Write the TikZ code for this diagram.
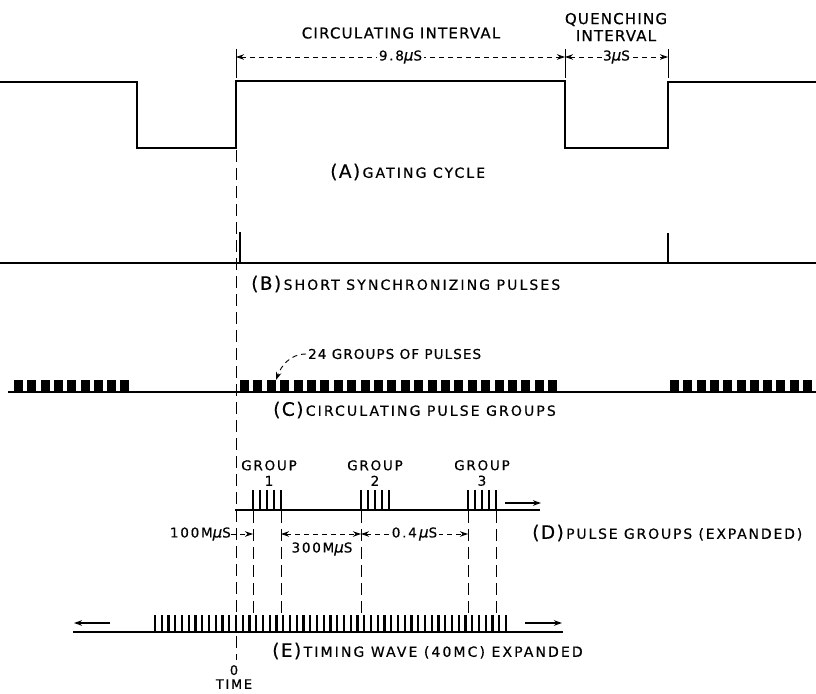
\documentclass[tikz,border=0pt]{standalone}
\usepackage{fontspec}
\setmainfont{DejaVu Sans}[FakeBold=0.5]
\newfontfamily\fa{DejaVu Sans}[LetterSpace=8,FakeBold=0.5]
\newfontfamily\fb{DejaVu Sans}[LetterSpace=15,FakeBold=0.5]
\newfontfamily\fc{DejaVu Sans}[LetterSpace=13,FakeBold=0.5]
\newfontfamily\fmu{DejaVu Sans}[FakeBold=0.5]
\usetikzlibrary{arrows.meta}
\newcommand{\mus}{{\fmu\itshape\fontsize{15}{15}\selectfont μ}S}
\newcommand{\bigtxt}[1]{{\fontsize{18.5}{18.5}\selectfont\fa #1}}
\begin{document}
\begin{tikzpicture}[x=1pt,y=-1pt,
  wave/.style={line width=2.9pt,line join=miter},
  base/.style={line width=1.9pt},
  vdash/.style={line width=1pt,dash pattern=on 12pt off 6pt},
  dim/.style={line width=0.9pt,dash pattern=on 5pt off 4pt},
  tipboth/.style={{Stealth[length=8pt,width=5.5pt]}-{Stealth[length=8pt,width=5.5pt]}},
  tipend/.style={-{Stealth[length=8pt,width=5.5pt]}},
  lbl/.style={inner sep=0pt,anchor=west,font=\fontsize{14}{14}\selectfont\fb},
  ctr/.style={inner sep=0pt,font=\fontsize{13.5}{15.5}\selectfont\fc,align=center},
  dimtxt/.style={inner sep=1.5pt,fill=white,font=\fontsize{13.5}{13.5}\selectfont\fc}]
\useasboundingbox (0,0) rectangle (816,693);
% ---------- (A) gating cycle ----------
\draw[wave] (0,82) -- (137,82) -- (137,148) -- (236,148) -- (236,81) -- (565,81)
  -- (565,148) -- (668,148) -- (668,82) -- (816,82);
\coordinate (a1) at (236,57);
\coordinate (a2) at (565,57);
\coordinate (a3) at (668,57);
\draw[line width=0.9pt] (236,49) -- (236,78) (565,49) -- (565,78) (668,49) -- (668,78);
\draw[dim,tipboth] (a1) -- node[dimtxt] {9.8\mus} (a2);
\draw[dim,tipboth] (a2) -- node[dimtxt] {3\mus} (a3);
\node[inner sep=0pt,font=\fontsize{15}{15}\selectfont\fa] (circ) at (401,33) {CIRCULATING INTERVAL};
\node[inner sep=0pt,align=center,font=\fontsize{15}{17}\selectfont\fa] (quench) at (616,27) {QUENCHING\\INTERVAL};
\node[lbl] (la) at (330,172) {\bigtxt{(A)}\,GATING CYCLE};
% main time line
\draw[vdash] (236,150) -- (236,660);
% ---------- (B) ----------
\draw[base] (0,263) -- (816,263);
\draw[line width=2.8pt] (240,263) -- (240,232) (668,263) -- (668,233);
\node[lbl] (lb) at (251,284) {\bigtxt{(B)}\,SHORT SYNCHRONIZING PULSES};
% ---------- (C) ----------
\draw[base] (8,392) -- (816,392);
\foreach \i in {0,...,8} \fill (14+\i*13.3,380) rectangle ++(9,12);
\foreach \i in {0,...,23} \fill (240+\i*13.4,380) rectangle ++(9,12);
\foreach \i in {0,...,10} \fill (670+\i*13.3,380) rectangle ++(9,12);
\node[inner sep=0pt,anchor=west,font=\fontsize{13.5}{13.5}\selectfont\fa] (g24) at (308,354) {24 GROUPS OF PULSES};
\coordinate (g24tip) at (276,380);
\draw[dim,tipend] ([xshift=-2pt]g24.west) to[out=180,in=70] (g24tip);
\node[lbl] (lc) at (273,410) {\bigtxt{(C)}\,CIRCULATING PULSE GROUPS};
% ---------- (D) ----------
\draw[base] (235,510) -- (540,510);
\foreach \s in {253,361,468} \foreach \k in {0,...,4} \draw[line width=1.7pt] (\s+\k*7,510) -- (\s+\k*7,490);
\draw[line width=1.7pt,tipend] (505,503) -- (541,503);
\node[ctr] (gr1) at (269,473) {GROUP\\1};
\node[ctr] (gr2) at (375,473) {GROUP\\2};
\node[ctr] (gr3) at (482,473) {GROUP\\3};
\foreach \x in {253,281,361,468,496} \draw[vdash] (\x,511) -- (\x,614);
\coordinate (d1) at (253,534);
\coordinate (d2) at (281,534);
\coordinate (d3) at (361,534);
\coordinate (d4) at (468,534);
\node[inner sep=0pt,anchor=east,font=\fontsize{13.5}{13.5}\selectfont\fc] (t100) at (231,534) {100M\mus};
\draw[dim,tipend] (t100.east) -- (d1);
\draw[dim,tipboth] (d2) -- (d3);
\node[ctr] (t300) at (322,549) {300M\mus};
\draw[dim,tipboth] (d3) -- node[dimtxt] {0.4\,\mus} (d4);
\node[lbl,font=\fontsize{14}{14}\selectfont\fc] (ld) at (532,533) {\bigtxt{(D)}\,PULSE GROUPS (EXPANDED)};
% ---------- (E) ----------
\draw[base] (73,632) -- (563,632);
\foreach \k in {-12,...,40} \draw[line width=2.2pt] (236+\k*6.75,632) -- (236+\k*6.75,615);
\coordinate (el1) at (110,623);
\coordinate (el2) at (74,623);
\coordinate (er1) at (525,623);
\coordinate (er2) at (562,623);
\draw[line width=1.7pt,tipend] (el1) -- (el2);
\draw[line width=1.7pt,tipend] (er1) -- (er2);
\node[lbl] (le) at (272,651) {\bigtxt{(E)}\,TIMING WAVE (40MC) EXPANDED};
\node[ctr,font=\fontsize{13}{14}\selectfont\fc] (tzero) at (234,677) {0\\TIME};
\end{tikzpicture}
\end{document}
